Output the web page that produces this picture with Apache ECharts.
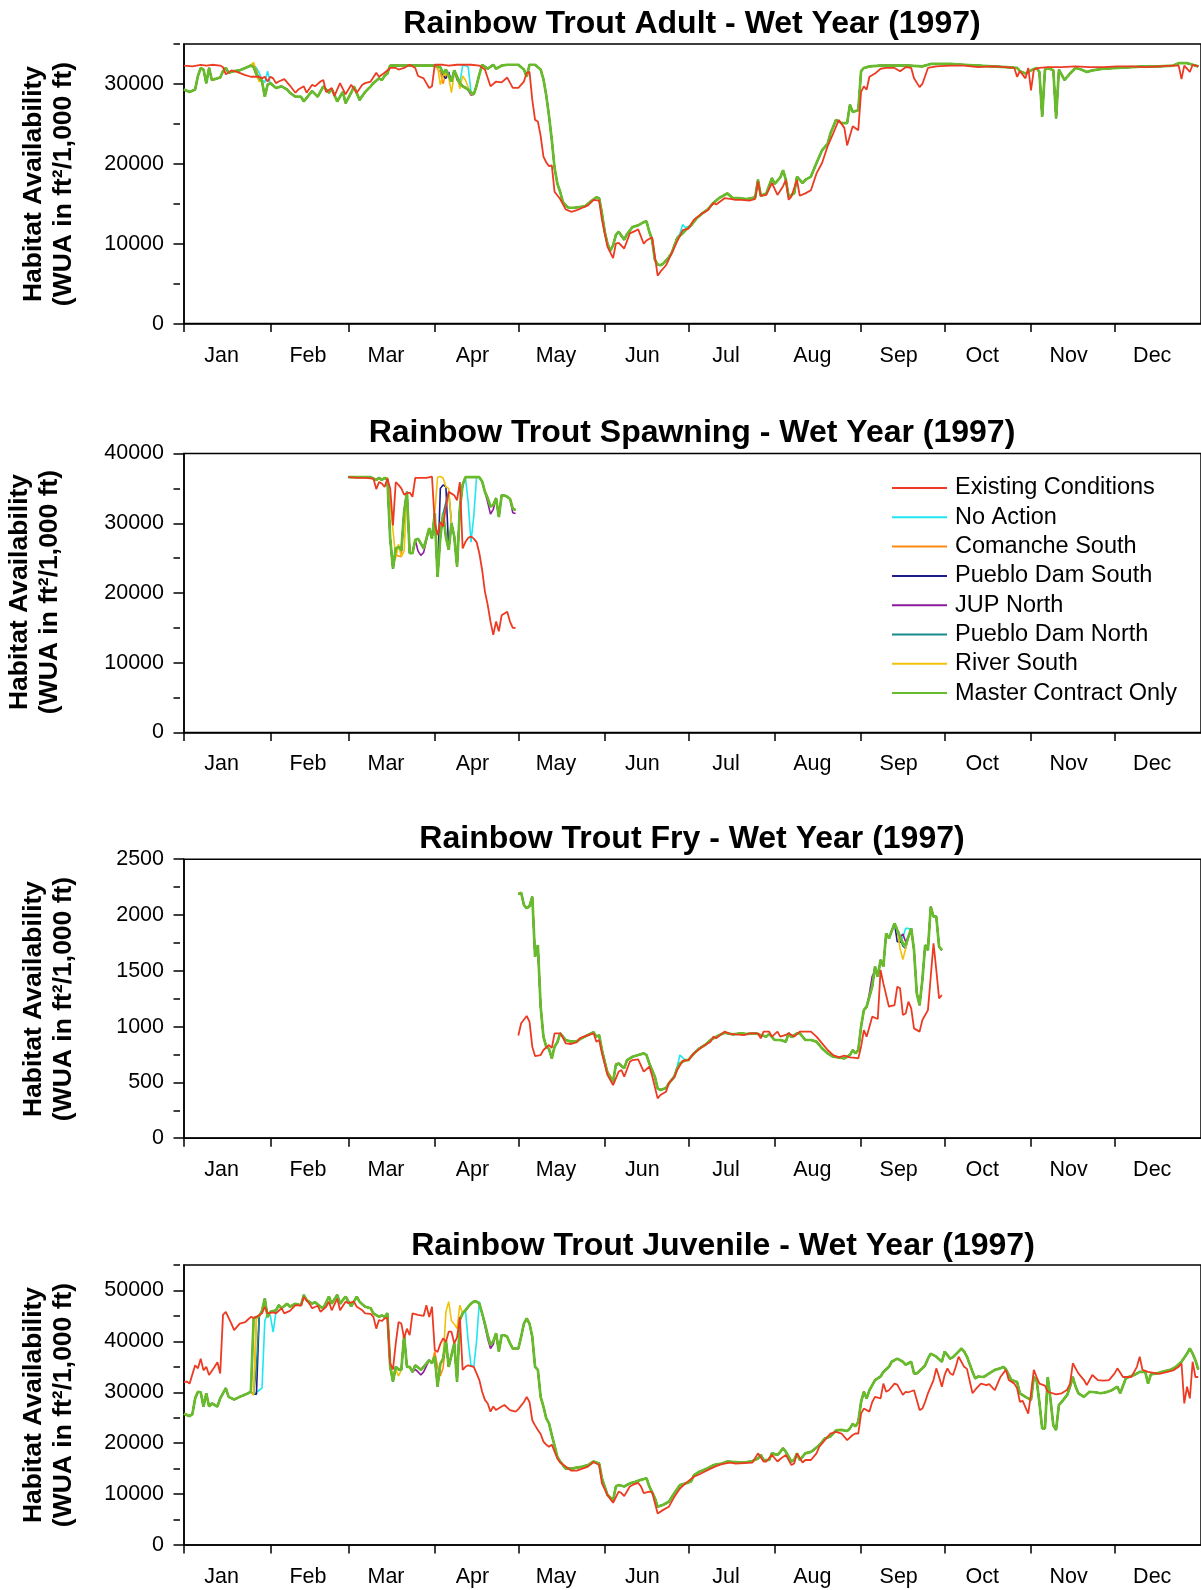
<!DOCTYPE html>
<html><head><meta charset="utf-8">
<script src="https://cdn.jsdelivr.net/npm/echarts@6/dist/echarts.min.js"></script>
<style>html,body{margin:0;padding:0;background:#fff}#c{width:1201px;height:1590px}</style>
</head><body><div id="c"></div><script>
// ---------- categories / ticks ----------
const monthNames = ['Jan','Feb','Mar','Apr','May','Jun','Jul','Aug','Sep','Oct','Nov','Dec'];
const monthStarts = [0,31,59,90,120,151,181,212,243,273,304,334];
const monthLabelPos = [13.5,44.5,72.5,103.5,133.5,164.5,194.5,225.5,256.5,286.5,317.5,347.5];
const seriesNames = ['Existing Conditions','No Action','Comanche South','Pueblo Dam South','JUP North','Pueblo Dam North','River South','Master Contract Only'];
const chartTitles = ['Rainbow Trout Adult - Wet Year (1997)','Rainbow Trout Spawning - Wet Year (1997)','Rainbow Trout Fry - Wet Year (1997)','Rainbow Trout Juvenile - Wet Year (1997)'];
const adultMajorTicks = [0,10000,20000,30000];
const adultMinorTicks = [5000,15000,25000,35000];
const spawnMajorTicks = [0,10000,20000,30000,40000];
const spawnMinorTicks = [5000,15000,25000,35000];
const fryMajorTicks = [0,500,1000,1500,2000,2500];
const fryMinorTicks = [250,750,1250,1750,2250];
const juvMajorTicks = [0,10000,20000,30000,40000,50000];
const juvMinorTicks = [5000,15000,25000,35000,45000,55000];

// ---------- Adult ----------
const adultExisting = [[0,32300],[3,32200],[6,32400],[8,32300],[10,32400],[13,32300],[14,32100],[15,31200],[17,31700],[19,31500],[22,31100],[24,30900],[27,30900],[28,30700],[29,30900],[30,30300],[31,30900],[32,30700],[33,30100],[34,30300],[36,30600],[38,29800],[40,28900],[41,29300],[43,29700],[44,28900],[46,29900],[47,29700],[49,30300],[50,30500],[51,29000],[53,29500],[54,28500],[56,30100],[58,28700],[60,29900],[62,28900],[64,29900],[65,30100],[67,30300],[69,31400],[70,30900],[72,31400],[74,32000],[76,32000],[77,31800],[79,32000],[81,32400],[83,32000],[84,31000],[86,30700],[88,29500],[89,29700],[90,32400],[93,32400],[95,32300],[98,32400],[100,32400],[103,32400],[106,32300],[108,31800],[110,29700],[112,30300],[114,30200],[116,30800],[118,29500],[120,29500],[122,30300],[123,31400],[124,31500],[125,28000],[126,25500],[127,25300],[128,23500],[129,20900],[130,20200],[131,19700],[132,19800],[133,16500],[135,15600],[137,14300],[139,14000],[141,14200],[143,14500],[145,14800],[147,15500],[149,15400],[150,13000],[152,9600],[154,8200],[155,10000],[156,10100],[158,9400],[160,11300],[162,11600],[163,11800],[165,10000],[166,10400],[168,10800],[170,6000],[171,6500],[173,7300],[175,8800],[177,10300],[179,11700],[181,11900],[183,13000],[186,13800],[188,14200],[190,15100],[191,14900],[194,15700],[196,15600],[198,15500],[200,15500],[203,15400],[205,15600],[206,17800],[207,16000],[209,16100],[211,17600],[213,16100],[215,17200],[216,18000],[217,15500],[218,15900],[220,18000],[221,16000],[223,16300],[225,16700],[227,18800],[229,20100],[231,22200],[233,23800],[235,25500],[237,24500],[238,22300],[239,23500],[240,24700],[242,24200],[243,29000],[244,29700],[245,29300],[246,30900],[248,31300],[250,31900],[252,32000],[255,32000],[257,31600],[259,32100],[261,32000],[262,30700],[264,29600],[265,30000],[267,32000],[270,32200],[275,32300],[280,32300],[285,32100],[290,32200],[295,32100],[298,32000],[299,30900],[300,31600],[302,30700],[303,32000],[304,29200],[305,31800],[307,32000],[310,32100],[315,32100],[320,32200],[325,32100],[330,32100],[335,32200],[340,32200],[345,32100],[350,32200],[355,32300],[357,32300],[358,30600],[359,32300],[361,31500],[362,32400],[364,32200]];
const adultMaster = [[0,29300],[2,29000],[4,29300],[5,31000],[6,32000],[7,31800],[8,30100],[9,32000],[10,30500],[11,30600],[13,30800],[14,31600],[15,32000],[16,31400],[18,31600],[20,31700],[22,32000],[24,32300],[25,32100],[26,31200],[27,30800],[28,30300],[29,28400],[30,29900],[31,30100],[32,29800],[33,29500],[35,29700],[37,29300],[38,28900],[40,28400],[42,28400],[43,27800],[45,28700],[46,29100],[48,28400],[50,29700],[52,28900],[53,29400],[55,27800],[57,29000],[58,27600],[60,28900],[61,29700],[63,28000],[65,29000],[67,29700],[68,30100],[70,30700],[71,30500],[72,31000],[73,31300],[74,32300],[76,32300],[80,32300],[85,32300],[90,32300],[92,32100],[93,31300],[94,31800],[96,30300],[97,31700],[99,30100],[100,29700],[102,29300],[103,28900],[104,28700],[105,29800],[106,31200],[107,32400],[109,31900],[111,32400],[112,31900],[114,32300],[116,32400],[120,32400],[122,31800],[123,30900],[124,32400],[126,32400],[127,32100],[128,31800],[129,30600],[130,28600],[131,26000],[132,23000],[133,19500],[134,17500],[135,16500],[136,15200],[137,14800],[138,14500],[140,14500],[142,14600],[144,14700],[146,15300],[148,15800],[149,15700],[150,13800],[151,11500],[152,10000],[153,9100],[154,9800],[155,11100],[156,11500],[157,11000],[158,10500],[159,11200],[161,12100],[163,12300],[165,12700],[166,12800],[167,11500],[168,10500],[169,8000],[170,7400],[171,7300],[172,7500],[174,8300],[175,8800],[177,10700],[179,11300],[180,11700],[182,12300],[184,13200],[186,13800],[188,14300],[190,15100],[192,15700],[194,16100],[195,16300],[197,15700],[199,15700],[202,15600],[205,15800],[206,18000],[207,16000],[209,16300],[211,18200],[212,17500],[214,18300],[215,19200],[216,18000],[217,15900],[219,16300],[220,18400],[222,17600],[223,18000],[225,18400],[227,20100],[229,21700],[231,22500],[232,23800],[234,25500],[236,25100],[238,25100],[239,27400],[240,26500],[242,26700],[243,31600],[244,32000],[246,32200],[250,32300],[255,32300],[260,32300],[265,32200],[268,32500],[275,32500],[280,32400],[285,32300],[290,32200],[295,32100],[299,32000],[300,31600],[302,31300],[304,31700],[306,32000],[307,31500],[308,25900],[309,31800],[310,32000],[312,31700],[313,25700],[314,31800],[316,30500],[318,31300],[320,32000],[322,31800],[324,31500],[326,31700],[330,31900],[335,32000],[340,32100],[345,32200],[350,32200],[355,32300],[357,32600],[360,32600],[362,32400],[364,32200]];
const adultNoAction = [[[25,32300],[26,32000],[27,31400],[28,30500],[29,30200],[30,31600],[31,30000]],[[100,32300],[101,32300],[102,32100],[103,29000],[104,28700]],[[178,11300],[179,12400],[180,12000]]];
const adultComanche = [[[24,32300],[25,32600],[26,31700],[27,30500],[28,30300]],[[92,31500],[93,30000],[94,31500]]];
const adultPuebloSouth = [[[93,31000],[94,30700],[95,31500]]];
const adultJup = [[[101,29600],[102,29200],[103,28600]]];
const adultPuebloNorth = [[[98,30500],[99,30000],[100,29800]]];
const adultRiver = [[[24,32400],[25,32700],[26,31000],[27,30300]],[[91,32200],[92,29900],[93,31100],[94,31300],[95,30800],[96,28900],[97,31300],[98,31000],[99,29400],[100,31000],[101,30500],[103,28700]]];

// ---------- Spawning ----------
const spawnExisting = [[59,36600],[62,36500],[65,36500],[68,36400],[69,34900],[70,35900],[71,35700],[72,35200],[73,36400],[74,35000],[75,29700],[76,35900],[77,35500],[78,35000],[79,34100],[80,34300],[81,34400],[82,33800],[83,36500],[85,36500],[87,36500],[89,36700],[90,30000],[91,28300],[92,30200],[93,29500],[94,32400],[95,34500],[97,34000],[98,33300],[99,35900],[100,26400],[101,27300],[102,27900],[103,28100],[104,27800],[105,27300],[106,25700],[107,23300],[108,20200],[109,18300],[110,15900],[111,14000],[112,15900],[113,14500],[114,16800],[116,17300],[117,15900],[118,15000],[119,15000]];
const spawnMaster = [[59,36600],[63,36600],[67,36600],[68,36400],[69,36200],[70,36500],[71,36200],[72,36500],[73,36300],[74,27800],[75,23500],[76,26400],[77,26600],[78,26100],[79,31600],[80,34500],[81,25700],[82,25700],[83,27600],[84,27800],[85,27100],[86,26400],[87,27800],[88,29300],[89,27800],[90,31400],[91,22300],[92,28000],[93,31400],[94,28000],[95,26200],[96,30000],[97,28100],[98,23800],[99,32100],[100,35500],[101,36600],[103,36600],[106,36600],[107,36000],[108,34500],[109,33600],[110,32400],[111,32600],[112,33600],[113,30900],[114,34000],[115,34000],[116,33800],[117,33500],[118,32100],[119,31900]];
const spawnNoAction = [[[101,36600],[102,33000],[103,27300],[104,31000],[105,36600]]];
const spawnComanche = [[[76,25500],[77,25300],[78,25200]]];
const spawnPuebloSouth = [[[92,35000],[93,35500],[94,35200]]];
const spawnJup = [[[84,26000],[85,25400],[86,25800],[87,27500]],[[109,33000],[110,31300],[111,32000]],[[118,31500],[119,31400]]];
const spawnPuebloNorth = [[[94,33000],[95,34500]]];
const spawnRiver = [[[73,36500],[74,33000],[75,29000],[76,25000],[77,27000],[78,25200],[79,26000]],[[91,36600],[92,36700],[93,36500],[94,35200],[95,35000]]];

// ---------- Fry ----------
const fryExisting = [[120,920],[121,1030],[123,1095],[124,1045],[125,820],[126,736],[128,745],[129,790],[131,835],[132,810],[133,940],[135,940],[136,900],[137,850],[139,844],[141,860],[142,895],[144,915],[147,940],[148,865],[149,880],[150,760],[152,566],[154,476],[156,596],[157,611],[158,551],[160,685],[161,700],[163,706],[165,596],[167,640],[168,560],[170,357],[171,387],[173,417],[174,491],[176,551],[177,610],[179,694],[181,700],[183,760],[186,820],[189,865],[190,910],[191,895],[194,955],[196,935],[198,930],[201,924],[203,940],[206,940],[207,895],[208,955],[210,955],[211,910],[213,955],[214,910],[216,925],[217,940],[219,910],[221,955],[223,955],[225,955],[227,910],[229,850],[231,790],[233,745],[235,724],[237,740],[239,724],[241,720],[242,715],[243,820],[244,969],[245,910],[247,1089],[249,1068],[250,1507],[251,1387],[253,1178],[255,1193],[256,1358],[257,1343],[258,1104],[259,1118],[260,1223],[261,1163],[262,984],[264,955],[265,1059],[267,1148],[268,1447],[269,1746],[270,1507],[271,1253],[272,1283]];
const fryMaster = [[120,2188],[121,2200],[122,2090],[123,2060],[124,2080],[125,2164],[126,1626],[127,1730],[128,1178],[129,910],[130,820],[131,800],[132,715],[133,820],[134,860],[135,940],[136,910],[137,880],[139,865],[141,870],[143,900],[145,925],[147,950],[148,910],[149,924],[150,790],[152,581],[154,506],[155,656],[156,670],[158,626],[159,700],[161,730],[163,745],[165,760],[166,745],[167,670],[169,551],[170,447],[171,432],[173,450],[174,491],[176,551],[177,626],[178,670],[180,700],[181,700],[183,760],[185,805],[187,835],[189,880],[191,910],[194,945],[197,930],[200,940],[202,934],[205,940],[207,925],[209,910],[210,935],[212,880],[214,880],[216,865],[217,940],[218,905],[220,940],[221,940],[223,880],[225,880],[227,865],[229,805],[231,760],[233,730],[235,724],[237,715],[238,730],[239,745],[240,790],[241,760],[242,790],[243,999],[244,1148],[245,1178],[246,1268],[247,1358],[248,1537],[249,1447],[250,1597],[251,1540],[252,1835],[253,1790],[255,1925],[256,1865],[258,1746],[259,1731],[260,1806],[261,1880],[262,1686],[263,1298],[264,1193],[265,1417],[266,1731],[267,1686],[268,2074],[269,1985],[270,1985],[271,1716],[272,1686]];
const fryNoAction = [[[176,560],[177,640],[178,745],[179,720]],[[257,1760],[258,1800],[259,1880],[260,1880],[261,1870]]];
const fryComanche = [[[152,600],[153,560],[154,520],[155,670]]];
const fryPuebloSouth = [[[256,1760],[257,1760]]];
const fryJup = [[[246,1300],[247,1450],[248,1500]],[[257,1800],[258,1830],[259,1760]]];
const fryPuebloNorth = [[[258,1720],[259,1700]]];
const fryRiver = [[[257,1700],[258,1600],[259,1700]]];

// ---------- Juvenile ----------
const juvExisting = [[0,32000],[1,32100],[2,31700],[4,35300],[5,34700],[6,36600],[7,34300],[8,35000],[9,33400],[11,35000],[12,35900],[13,33700],[14,45200],[15,45800],[17,43500],[18,42200],[20,43500],[22,43800],[24,44800],[25,44600],[26,44800],[28,45500],[29,46800],[30,45500],[32,45700],[33,45500],[35,46500],[36,45500],[38,46000],[40,47100],[42,47000],[43,48700],[45,47400],[46,46500],[48,47000],[49,45800],[51,46800],[52,47800],[53,46100],[55,48400],[56,46100],[58,47800],[59,47500],[61,47800],[62,46800],[64,46100],[65,45500],[67,45400],[68,44800],[69,42500],[70,44200],[71,44000],[72,44500],[73,44600],[74,35700],[75,34500],[76,39600],[77,43800],[78,43500],[79,40600],[80,42500],[81,41200],[82,45500],[84,45200],[86,45000],[87,47100],[88,44800],[89,46800],[90,38300],[91,37900],[92,39500],[93,40600],[94,39900],[95,41900],[96,41900],[97,39600],[98,40800],[99,44800],[100,34400],[101,35000],[102,35300],[104,35000],[105,33700],[106,32400],[107,30100],[108,28500],[109,27800],[110,26200],[111,27200],[112,26500],[114,27200],[115,27500],[117,26500],[119,26200],[120,26700],[122,28100],[123,29100],[124,28100],[125,24500],[126,23500],[127,22600],[128,21800],[129,20300],[130,19700],[131,19300],[132,19700],[134,17000],[135,16200],[137,15400],[139,14600],[141,14600],[143,15000],[145,15400],[147,16300],[149,15700],[150,12100],[152,9800],[154,8300],[156,10500],[157,10200],[158,9600],[160,11500],[161,11800],[163,12200],[164,11500],[165,10200],[167,10500],[168,10400],[170,6200],[172,6900],[174,7500],[176,9500],[178,11100],[180,12100],[183,13400],[185,13900],[189,15000],[191,15500],[193,15900],[196,16200],[198,16000],[201,16100],[204,16200],[206,18000],[208,16400],[209,16400],[211,17700],[213,16400],[214,16900],[216,17700],[218,15700],[219,16000],[220,18000],[222,16200],[223,16700],[225,16700],[227,18000],[228,19300],[230,20600],[232,21900],[234,22200],[236,21900],[238,20600],[240,21600],[241,21900],[242,21900],[243,25800],[244,26800],[246,26200],[247,28100],[248,29100],[250,28800],[251,31700],[252,30100],[253,30400],[255,31700],[256,31500],[258,29500],[259,30100],[260,30000],[262,30400],[263,28500],[264,26500],[265,26800],[266,28100],[267,29800],[269,32400],[270,34700],[271,33000],[272,31100],[273,33400],[274,34700],[275,33700],[276,33400],[277,35000],[278,37000],[279,36000],[280,35000],[281,34600],[283,29800],[284,30500],[286,31700],[288,31400],[289,31600],[291,30400],[292,31700],[293,33000],[295,34400],[296,32400],[298,31700],[299,30800],[300,28100],[301,28300],[303,25800],[304,29800],[305,34400],[306,33000],[307,31700],[309,31300],[310,30100],[313,29600],[315,29800],[317,30500],[318,31700],[319,35700],[321,33700],[323,32400],[324,31400],[326,33400],[328,32400],[330,32300],[332,32400],[334,33700],[335,34700],[337,33000],[339,33000],[340,33000],[342,35000],[343,37000],[344,34400],[346,34000],[348,33800],[350,33600],[353,34000],[355,34300],[357,35000],[358,35700],[359,27800],[360,31100],[361,28800],[362,36000],[363,33000],[364,33000]];
const juvMaster = [[0,25800],[2,25300],[3,25700],[4,28800],[5,30100],[6,30000],[7,27200],[8,29800],[9,27200],[10,27800],[12,27200],[13,28800],[15,30800],[16,29100],[18,28600],[20,29100],[21,29300],[23,29800],[24,30100],[25,44500],[26,44800],[27,45000],[28,46000],[29,48400],[30,44800],[31,45800],[33,46100],[34,47100],[35,46500],[37,47400],[38,46800],[40,47400],[42,47100],[43,49100],[44,48100],[46,47400],[47,47700],[49,46800],[50,46500],[52,48800],[53,47400],[55,49100],[56,47400],[58,48800],[60,46900],[62,48800],[63,47800],[65,46800],[67,46500],[68,45500],[70,44800],[71,45100],[72,44800],[73,45500],[74,35000],[75,32100],[76,35000],[77,34500],[78,34400],[79,41200],[80,35000],[81,35000],[82,34000],[83,35300],[84,34900],[85,34400],[86,35000],[88,36300],[89,35700],[90,37000],[91,31100],[92,35600],[93,36600],[94,40200],[95,35000],[96,37300],[97,39600],[98,32100],[99,44200],[100,45500],[101,46100],[102,46800],[103,47400],[104,47800],[105,47800],[106,47400],[107,45500],[108,43500],[109,41200],[110,39300],[111,40000],[112,41600],[113,38000],[114,41200],[115,41200],[116,40900],[117,39600],[118,38600],[119,38600],[120,38600],[121,40900],[122,43500],[123,44500],[124,43500],[125,40900],[126,35000],[127,34400],[128,29100],[129,27200],[130,24900],[131,23900],[132,21600],[133,19500],[134,17300],[135,16400],[137,15000],[139,15000],[141,15200],[143,15400],[145,15700],[147,16400],[149,16000],[150,13100],[152,9800],[154,8800],[155,11500],[156,11800],[158,11500],[160,12100],[162,12400],[164,12800],[166,13100],[167,11500],[169,9200],[170,7500],[172,7900],[174,8500],[176,10200],[178,11800],[180,12100],[182,12500],[183,13700],[185,14400],[188,15100],[190,15700],[193,16000],[195,16400],[198,16300],[201,16200],[204,16500],[206,17000],[207,17700],[208,16700],[210,16700],[211,18000],[213,17700],[214,18300],[215,19000],[216,18300],[218,16400],[219,16700],[220,18000],[221,16700],[223,18000],[225,18300],[226,18700],[228,19600],[230,20900],[232,21300],[234,22500],[236,22600],[238,22400],[239,22900],[240,23800],[241,23300],[242,24200],[243,28100],[244,30100],[245,28800],[246,30400],[248,32400],[250,33100],[251,34000],[253,35000],[254,36000],[256,36600],[258,36000],[259,35400],[261,36000],[262,33700],[263,33700],[265,34700],[266,35300],[267,36600],[268,37600],[270,37000],[272,36000],[273,38000],[274,37300],[275,36600],[276,36900],[278,38000],[279,38600],[280,38000],[281,37000],[282,35500],[283,34000],[284,32700],[285,33100],[287,33000],[289,33700],[291,34400],[293,34700],[294,35000],[295,34500],[296,33400],[297,32400],[299,32000],[300,29800],[302,29100],[303,28800],[304,28500],[305,33000],[306,32400],[307,28000],[308,22900],[309,22900],[310,33000],[311,28500],[312,23500],[313,22600],[314,27500],[315,28100],[317,29500],[318,31100],[319,33000],[320,31100],[321,29800],[323,29100],[325,30100],[327,30000],[329,29800],[331,30000],[333,30400],[335,31100],[336,29800],[338,32700],[339,33000],[341,33400],[343,34000],[345,34000],[346,31700],[347,33500],[349,33700],[351,34000],[354,34400],[356,35000],[358,36000],[360,37600],[361,38600],[362,37600],[363,36300],[364,34500]];
const juvNoAction = [[[24,30100],[25,29600],[26,30000],[27,30400],[28,30800],[29,44000],[30,45500],[31,45000],[32,41800],[33,45800]],[[101,46100],[102,40000],[103,35300],[104,35000],[105,40000],[106,47800]]];
const juvComanche = [[[24,30100],[25,29500],[26,44500],[27,45000]],[[90,38000],[91,35000],[92,33200],[93,34800]]];
const juvPuebloSouth = [[[24,30100],[25,29600],[26,29600],[27,45000]]];
const juvJup = [[[83,34500],[84,34000],[85,33400],[86,34000]],[[108,43000],[109,40500],[110,38600],[111,39400]]];
const juvPuebloNorth = [[[24,30100],[25,29700],[26,35000],[27,45000]]];
const juvRiver = [[[24,30100],[25,29400],[26,44600]],[[75,33500],[76,34500],[77,33200]],[[94,45800],[95,47800],[96,44000],[97,43400],[98,42500],[99,47100],[100,45500]]];

// ---------- build ----------
function withOverrides(base, segments) {
  let pts = base.slice();
  segments.forEach(seg => {
    const lo = seg[0][0], hi = seg[seg.length - 1][0];
    pts = pts.filter(p => p[0] < lo || p[0] > hi).concat(seg);
  });
  return pts.sort((a, b) => a[0] - b[0]);
}
const chartDefs = [
  { max: 35000, major: adultMajorTicks, minor: adultMinorTicks, existing: adultExisting, master: adultMaster,
    others: [adultNoAction, adultComanche, adultPuebloSouth, adultJup, adultPuebloNorth, adultRiver] },
  { max: 40000, major: spawnMajorTicks, minor: spawnMinorTicks, existing: spawnExisting, master: spawnMaster,
    others: [spawnNoAction, spawnComanche, spawnPuebloSouth, spawnJup, spawnPuebloNorth, spawnRiver] },
  { max: 2500, major: fryMajorTicks, minor: fryMinorTicks, existing: fryExisting, master: fryMaster,
    others: [fryNoAction, fryComanche, fryPuebloSouth, fryJup, fryPuebloNorth, fryRiver] },
  { max: 55000, major: juvMajorTicks, minor: juvMinorTicks, existing: juvExisting, master: juvMaster,
    others: [juvNoAction, juvComanche, juvPuebloSouth, juvJup, juvPuebloNorth, juvRiver] }
];
const colors = ['#ec3b22','#1fe6f2','#ff8a12','#1c1c8c','#8a1c9c','#178c8c','#f0c20a','#68bb2c'];
const gridBoxes = [
  { top: 44, height: 279.6, titleX: 692, titleY: 24, nameX: 49, nameY: 184 },
  { top: 453.5, height: 279, titleX: 692, titleY: 433, nameX: 34.5, nameY: 592 },
  { top: 859.2, height: 279, titleX: 692, titleY: 839, nameX: 49, nameY: 999 },
  { top: 1265, height: 280, titleX: 723, titleY: 1246, nameX: 49, nameY: 1405 }
];
const FONT = 'Liberation Sans, Arial, Helvetica, sans-serif';
const GL = 184, GW = 1021;

const grid = [], xAxis = [], yAxis = [], series = [], graphic = [];
chartDefs.forEach((c, i) => {
  const g = gridBoxes[i];
  grid.push({ left: GL, width: GW, top: g.top, height: g.height, show: true, borderColor: '#000', borderWidth: 1.5, backgroundColor: 'transparent' });
  xAxis.push({
    type: 'value', gridIndex: i, min: 0, max: 365,
    axisLine: { show: true, onZero: false, lineStyle: { color: '#000', width: 1.5 } },
    axisTick: { show: true, customValues: monthStarts, length: 8.5, lineStyle: { color: '#000', width: 1.5 } },
    axisLabel: { show: true, customValues: monthLabelPos, margin: 21, color: '#000', fontSize: 21.5, fontFamily: FONT,
      formatter: v => monthNames[monthLabelPos.indexOf(v)] || '' },
    splitLine: { show: false }
  });
  const majorStep = c.major[1] - c.major[0];
  yAxis.push({
    type: 'value', gridIndex: i, position: 'left', min: 0, max: c.max, interval: majorStep,
    axisLine: { show: true, lineStyle: { color: '#000', width: 1.5 } },
    axisTick: { show: true, customValues: c.major, length: 10.5, lineStyle: { color: '#000', width: 1.5 } },
    axisLabel: { show: true, customValues: c.major, margin: 20, color: '#000', fontSize: 21.5, fontFamily: FONT, formatter: v => String(v) },
    splitLine: { show: false }
  });
  yAxis.push({
    type: 'value', gridIndex: i, position: 'right', offset: -GW, min: 0, max: c.max,
    axisLine: { show: false },
    axisTick: { show: true, inside: true, customValues: c.minor, length: 6.5, lineStyle: { color: '#000', width: 1.5 } },
    axisLabel: { show: false }, splitLine: { show: false }
  });
  const allData = [c.existing].concat(c.others.map(o => withOverrides(c.master, o))).concat([c.master]);
  allData.forEach((d, k) => {
    series.push({
      type: 'line', name: seriesNames[k], xAxisIndex: i, yAxisIndex: 2 * i, data: d,
      showSymbol: false, symbol: 'none', silent: true, z: k === 0 ? 6 : 3,
      lineStyle: { color: colors[k], width: k === 7 ? 2.7 : (k === 0 ? 1.8 : 1.6) },
      itemStyle: { color: colors[k] }, connectNulls: false
    });
  });
  graphic.push({ type: 'text', x: g.titleX, y: g.titleY, style: { text: chartTitles[i], font: 'bold 32px ' + FONT, fill: '#000', align: 'center', verticalAlign: 'middle', textAlign: 'center', textVerticalAlign: 'middle' } });
  graphic.push({ type: 'text', x: g.nameX, y: g.nameY, rotation: Math.PI / 2, style: { text: 'Habitat Availability\n(WUA in ft\u00b2/1,000 ft)', font: 'bold 26.5px ' + FONT, lineHeight: 30, fill: '#000', align: 'center', verticalAlign: 'middle', textAlign: 'center', textVerticalAlign: 'middle' } });
});

const chart = echarts.init(document.getElementById('c'), null, { renderer: 'canvas' });
chart.setOption({
  animation: false,
  backgroundColor: '#fff',
  color: colors,
  grid, xAxis, yAxis, series, graphic,
  legend: {
    data: seriesNames, orient: 'vertical', left: 887, top: 471, icon: 'rect', itemWidth: 55, itemHeight: 2,
    itemGap: 5.3, selectedMode: false,
    textStyle: { fontSize: 23.5, fontFamily: FONT, color: '#000', lineHeight: 22, padding: [0, 0, 0, 3] }
  }
});
</script></body></html>
